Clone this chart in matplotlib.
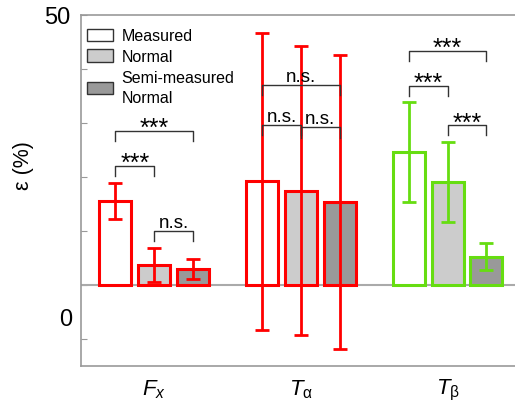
import numpy as np
import matplotlib.pyplot as plt

plt.rcParams['font.family'] = ['Liberation Sans', 'DejaVu Sans']
plt.rcParams['mathtext.fontset'] = 'custom'
plt.rcParams['mathtext.rm'] = 'Liberation Sans'
plt.rcParams['mathtext.it'] = 'Liberation Sans:italic'

groups = [r'$\mathit{F}_{\mathit{x}}$', r'$\mathit{T}_{\mathrm{α}}$', r'$\mathit{T}_{\mathrm{β}}$']
series = ['Measured', 'Normal', 'Semi-measured\nNormal']
means = {
    'Measured': [15.6, 19.2, 24.6],
    'Normal': [3.7, 17.5, 19.1],
    'Semi-measured\nNormal': [3.0, 15.4, 5.2],
}
errs = {
    'Measured': [3.3, 27.5, 9.3],
    'Normal': [3.2, 26.8, 7.4],
    'Semi-measured\nNormal': [1.9, 27.2, 2.5],
}
fills = ['white', '#cccccc', '#999999']
edges = ['#ff0000', '#ff0000', '#66dd11']

# (group, bar a, bar b, height, label)
brackets = [
    (0, 0, 2, 28.6, '***'), (0, 0, 1, 22.1, '***'), (0, 1, 2, 10.0, 'n.s.'),
    (1, 0, 2, 37.0, 'n.s.'), (1, 0, 1, 29.6, 'n.s.'), (1, 1, 2, 29.2, 'n.s.'),
    (2, 0, 2, 43.4, '***'), (2, 0, 1, 36.9, '***'), (2, 1, 2, 29.6, '***'),
]

fig = plt.figure(figsize=(5.15, 4.06), dpi=100)
ax = fig.add_axes([81 / 515, 1 - 367 / 406, 434 / 515, 351 / 406])

x = np.arange(len(groups))
step = 0.265
width = 0.218
for i, s in enumerate(series):
    xs = x + (i - 1) * step
    ax.bar(xs, means[s], width, color=fills[i], edgecolor=edges, linewidth=2.2, zorder=3)
    for j in range(len(groups)):
        ax.errorbar(xs[j], means[s][j], yerr=errs[s][j], fmt='none', ecolor=edges[j],
                    elinewidth=2, capsize=5, capthick=2, zorder=4)

ax.axhline(0, color='#aaaaaa', lw=1.5, zorder=2)

for g, a, b, h, lab in brackets:
    xa = g + (a - 1) * step
    xb = g + (b - 1) * step
    ax.plot([xa, xa, xb, xb], [h - 1.9, h, h, h - 1.9], color='#333333', lw=1, zorder=5)
    if lab == '***':
        ax.text((xa + xb) / 2, h - 0.85, lab, ha='center', va='baseline', fontsize=18, zorder=5)
    else:
        ax.text((xa + xb) / 2, h + 0.8, lab, ha='center', va='baseline', fontsize=13.5, zorder=5)

# legend
handles = [plt.Rectangle((0, 0), 1, 1, facecolor=fills[i], edgecolor='#333333', lw=1)
           for i in range(3)]
leg = ax.legend(handles, series, loc='upper left', bbox_to_anchor=(0, 1 - 7 / 351),
                frameon=False, fontsize=11.5, handlelength=1.6, handleheight=0.82,
                handletextpad=0.55, labelspacing=0.36, borderaxespad=0.2, borderpad=0.2)
for t in leg.get_texts():
    t.set_linespacing(1.4)

ax.set_xlim(-0.5, 2.46)
ax.set_ylim(-15, 50)
ax.set_xticks(x)
ax.set_xticklabels(groups, fontsize=16)
ax.tick_params(axis='x', length=0, pad=8)
ax.set_yticks([-10, 0, 10, 20, 30, 40, 50])
ax.set_yticklabels(['', '', '', '', '', '', '50'], fontsize=17)
ax.tick_params(axis='y', direction='in', length=4, color='#999999', pad=8)
ax.text(-0.02, -6.3, '0', transform=ax.get_yaxis_transform(), ha='right', va='center', fontsize=17)
ax.set_ylabel('ε (%)', fontsize=15.5)
ax.yaxis.set_label_coords(-0.108, 0.573)

for sp in ['left', 'top', 'bottom']:
    ax.spines[sp].set_color('#999999')
    ax.spines[sp].set_linewidth(1.2)
ax.spines['right'].set_visible(False)

fig.savefig('out.png', dpi=100)
